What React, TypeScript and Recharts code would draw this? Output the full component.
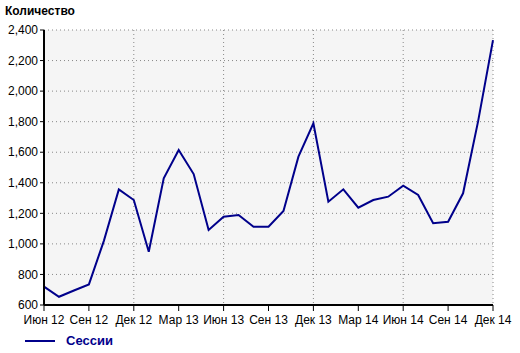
import { LineChart, Line, XAxis, YAxis, CartesianGrid } from "recharts";

// monthly sessions, Jun 2012 .. Dec 2014
const months = [
    "Июн 12", "Июл 12", "Авг 12", "Сен 12", "Окт 12", "Ноя 12", "Дек 12",
    "Янв 13", "Фев 13", "Мар 13", "Апр 13", "Май 13", "Июн 13", "Июл 13",
    "Авг 13", "Сен 13", "Окт 13", "Ноя 13", "Дек 13", "Янв 14", "Фев 14",
    "Мар 14", "Апр 14", "Май 14", "Июн 14", "Июл 14", "Авг 14", "Сен 14",
    "Окт 14", "Ноя 14", "Дек 14",
];
const sessions = [
    720, 654, 695, 735, 1020, 1357, 1287, 949, 1429, 1614, 1457, 1091, 1178, 1189,
    1112, 1112, 1215, 1571, 1789, 1276, 1357, 1237, 1287, 1309, 1381, 1320, 1135, 1145,
    1331, 1800, 2334,
];
const xTicks = [0, 3, 6, 9, 12, 15, 18, 21, 24, 27, 30];
const yTicks = [600, 800, 1000, 1200, 1400, 1600, 1800, 2000, 2200, 2400];

const data = months.map((m, i) => ({ idx: i, month: m, value: sessions[i] }));

const font = "'Liberation Sans', Arial, sans-serif";
const lineColor = "#00008b";

export default function App() {
    return (
        <div style={{ position: "absolute", left: 0, top: 0, width: 520, height: 353, background: "#fff", fontFamily: font }}>
            <div style={{ position: "absolute", left: 5, top: 4, fontSize: 12, fontWeight: "bold", color: "#000" }}>
                Количество
            </div>
            <LineChart
                width={520}
                height={353}
                data={data}
                margin={{ top: 30, right: 27, bottom: 18, left: 0 }}
            >
                <CartesianGrid
                    fill="#f5f5f5"
                    stroke="#888"
                    strokeDasharray="1 3"
                />
                <XAxis
                    dataKey="idx"
                    type="number"
                    domain={[0, 30]}
                    ticks={xTicks}
                    tickFormatter={(v) => months[v]}
                    height={30}
                    axisLine={{ stroke: "#000", strokeWidth: 2 }}
                    tickLine={{ stroke: "#000" }}
                    tickSize={6}
                    tickMargin={4}
                    tick={{ fill: "#000", fontSize: 12, fontFamily: font }}
                />
                <YAxis
                    domain={[600, 2400]}
                    ticks={yTicks}
                    width={44}
                    tickFormatter={(v) => v.toLocaleString("en-US")}
                    axisLine={{ stroke: "#000", strokeWidth: 2 }}
                    tickLine={{ stroke: "#000" }}
                    tickSize={4}
                    tick={{ fill: "#000", fontSize: 12, fontFamily: font }}
                />
                <Line
                    type="linear"
                    dataKey="value"
                    stroke={lineColor}
                    strokeWidth={2}
                    dot={false}
                    isAnimationActive={false}
                />
            </LineChart>
            {/* legend */}
            <div style={{ position: "absolute", left: 25, top: 333, display: "flex", alignItems: "center" }}>
                <div style={{ width: 30, height: 2, background: lineColor }} />
                <span style={{ marginLeft: 11, fontSize: 13, fontWeight: "bold", color: lineColor }}>Сессии</span>
            </div>
        </div>
    );
}
